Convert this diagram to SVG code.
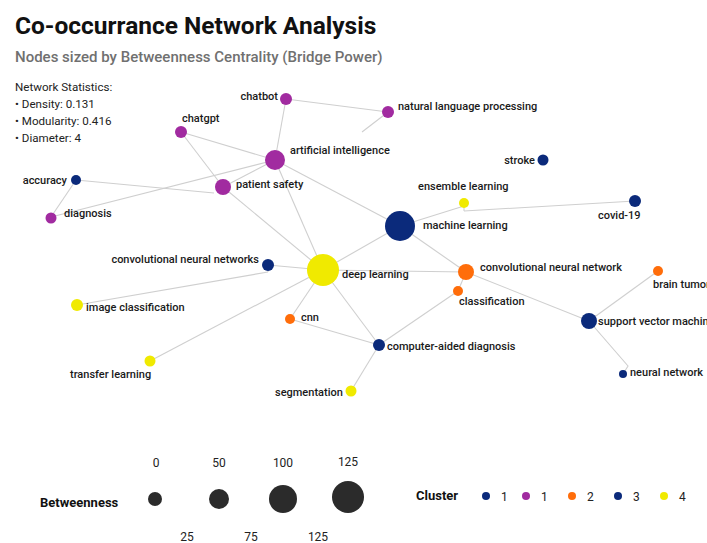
<svg xmlns="http://www.w3.org/2000/svg" width="707" height="543" viewBox="0 0 707 543">
<style>
.t{font-family:Roboto,"Liberation Sans",sans-serif}
.title{font-size:24.5px;font-weight:700;fill:#111}
.sub{font-size:15px;font-weight:500;fill:#707070}
.stat{font-size:11.6px;fill:#222}
.lbl{font-family:Roboto,"Liberation Sans",sans-serif;font-size:11px;font-weight:500;fill:#1a1a1a}
.e{stroke:#cfcfcf;stroke-width:1.1;fill:none}
.c1{fill:#0b2a7b}.c2{fill:#a12ba0}.c3{fill:#ff6d0a}.c4{fill:#f0ea00}
.leg{font-family:Roboto,"Liberation Sans",sans-serif;font-size:12px;fill:#222}
.legb{font-family:Roboto,"Liberation Sans",sans-serif;font-size:13px;font-weight:700;fill:#111}
</style>
<rect width="707" height="543" fill="#ffffff"/>
<text class="t title" x="15" y="34">Co-occurrance Network Analysis</text>
<text class="t sub" x="15" y="62">Nodes sized by Betweenness Centrality (Bridge Power)</text>
<g id="stats" class="t stat">
<text x="15" y="91">Network Statistics:</text>
<text x="15" y="108">• Density: 0.131</text>
<text x="15" y="125">• Modularity: 0.416</text>
<text x="15" y="142">• Diameter: 4</text>
</g>
<g id="edges" class="e">
<line x1="286" y1="99" x2="388" y2="112"/>
<line x1="286" y1="99" x2="275" y2="160"/>
<line x1="388" y1="112" x2="362" y2="132"/>
<line x1="181" y1="132" x2="275" y2="160"/>
<line x1="181" y1="132" x2="223" y2="187"/>
<line x1="275" y1="160" x2="223" y2="187"/>
<line x1="275" y1="160" x2="323" y2="270"/>
<line x1="275" y1="160" x2="400" y2="226"/>
<line x1="76" y1="180" x2="214" y2="193"/>
<line x1="51" y1="217" x2="275" y2="160"/>
<line x1="76" y1="180" x2="51" y2="217"/>
<line x1="223" y1="187" x2="323" y2="270"/>
<line x1="400" y1="226" x2="464" y2="206"/>
<line x1="635" y1="201" x2="464" y2="211"/>
<line x1="464" y1="203" x2="464" y2="211"/>
<line x1="400" y1="226" x2="323" y2="270"/>
<line x1="400" y1="226" x2="466" y2="272"/>
<line x1="323" y1="270" x2="268" y2="265"/>
<line x1="323" y1="270" x2="466" y2="272"/>
<line x1="323" y1="270" x2="290" y2="319"/>
<line x1="323" y1="270" x2="379" y2="345"/>
<line x1="323" y1="270" x2="150" y2="361"/>
<line x1="77" y1="305" x2="268" y2="272"/>
<line x1="268" y1="265" x2="268" y2="272"/>
<line x1="290" y1="319" x2="379" y2="345"/>
<line x1="379" y1="345" x2="458" y2="291"/>
<line x1="379" y1="345" x2="351" y2="391"/>
<line x1="458" y1="291" x2="466" y2="272"/>
<line x1="466" y1="272" x2="589" y2="321"/>
<line x1="589" y1="321" x2="658" y2="271"/>
<polyline points="589,321 628,366 623,374"/>
</g>
<g id="n-chatbot"><circle class="c2" cx="286" cy="99" r="6"/><text class="lbl" x="278" y="100" text-anchor="end">chatbot</text></g>
<g id="n-nlp"><circle class="c2" cx="388" cy="112" r="6"/><text class="lbl" x="398" y="110">natural language processing</text></g>
<g id="n-chatgpt"><circle class="c2" cx="181" cy="132" r="6"/><text class="lbl" x="182" y="122">chatgpt</text></g>
<g id="n-ai"><circle class="c2" cx="275" cy="160" r="10"/><text class="lbl" x="290" y="154">artificial intelligence</text></g>
<g id="n-patient-safety"><circle class="c2" cx="223" cy="187" r="8"/><text class="lbl" x="236" y="188">patient safety</text></g>
<g id="n-accuracy"><circle class="c1" cx="76" cy="180" r="5"/><text class="lbl" x="67" y="184" text-anchor="end">accuracy</text></g>
<g id="n-diagnosis"><circle class="c2" cx="51" cy="218" r="5.5"/><text class="lbl" x="64" y="217">diagnosis</text></g>
<g id="n-stroke"><circle class="c1" cx="543" cy="160" r="5.5"/><text class="lbl" x="535" y="164" text-anchor="end">stroke</text></g>
<g id="n-ensemble"><circle class="c4" cx="464" cy="203" r="5"/><text class="lbl" x="418" y="190">ensemble learning</text></g>
<g id="n-covid"><circle class="c1" cx="635" cy="201" r="6"/><text class="lbl" x="598" y="219">covid-19</text></g>
<g id="n-ml"><circle class="c1" cx="400" cy="226" r="15"/><text class="lbl" x="423" y="229">machine learning</text></g>
<g id="n-cnns"><circle class="c1" cx="268" cy="265" r="6"/><text class="lbl" x="259" y="263" text-anchor="end">convolutional neural networks</text></g>
<g id="n-dl"><circle class="c4" cx="323" cy="270" r="16"/><text class="lbl" x="342" y="278">deep learning</text></g>
<g id="n-cnn-net"><circle class="c3" cx="466" cy="272" r="8"/><text class="lbl" x="480" y="271">convolutional neural network</text></g>
<g id="n-brain"><circle class="c3" cx="658" cy="271" r="5"/><text class="lbl" x="653" y="288">brain tumor</text></g>
<g id="n-classification"><circle class="c3" cx="458" cy="291" r="5"/><text class="lbl" x="459" y="305">classification</text></g>
<g id="n-imgcls"><circle class="c4" cx="77" cy="305" r="6"/><text class="lbl" x="86" y="311">image classification</text></g>
<g id="n-cnn"><circle class="c3" cx="290" cy="319" r="5"/><text class="lbl" x="301" y="321">cnn</text></g>
<g id="n-svm"><circle class="c1" cx="589" cy="321" r="8"/><text class="lbl" x="598" y="325">support vector machine</text></g>
<g id="n-cad"><circle class="c1" cx="379" cy="345" r="6"/><text class="lbl" x="387" y="350">computer-aided diagnosis</text></g>
<g id="n-transfer"><circle class="c4" cx="150" cy="361" r="5.5"/><text class="lbl" x="70" y="378">transfer learning</text></g>
<g id="n-nn"><circle class="c1" cx="623" cy="374" r="4"/><text class="lbl" x="630" y="376">neural network</text></g>
<g id="n-segmentation"><circle class="c4" cx="351" cy="391" r="5.5"/><text class="lbl" x="275" y="396">segmentation</text></g>
<g id="legend-size">
<text class="legb" x="40" y="507">Betweenness</text>
<circle cx="155" cy="499" r="7" fill="#2b2b2b"/>
<circle cx="219" cy="499" r="10" fill="#2b2b2b"/>
<circle cx="283" cy="499" r="14" fill="#2b2b2b"/>
<circle cx="348" cy="497" r="16" fill="#2b2b2b"/>
<g class="leg" text-anchor="middle">
<text x="156" y="467">0</text><text x="219" y="467">50</text><text x="283" y="467">100</text><text x="348" y="466">125</text>
<text x="187" y="541">25</text><text x="251" y="541">75</text><text x="318" y="541">125</text>
</g>
</g>
<g id="legend-cluster">
<text class="legb" x="416" y="500">Cluster</text>
<circle class="c1" cx="486" cy="496" r="4"/><text class="leg" x="501" y="501">1</text>
<circle class="c2" cx="526" cy="496" r="4"/><text class="leg" x="541" y="501">1</text>
<circle class="c3" cx="572" cy="496" r="4"/><text class="leg" x="587" y="501">2</text>
<circle class="c1" cx="618" cy="496" r="4"/><text class="leg" x="633" y="501">3</text>
<circle class="c4" cx="664" cy="496" r="4"/><text class="leg" x="679" y="501">4</text>
</g>
</svg>
